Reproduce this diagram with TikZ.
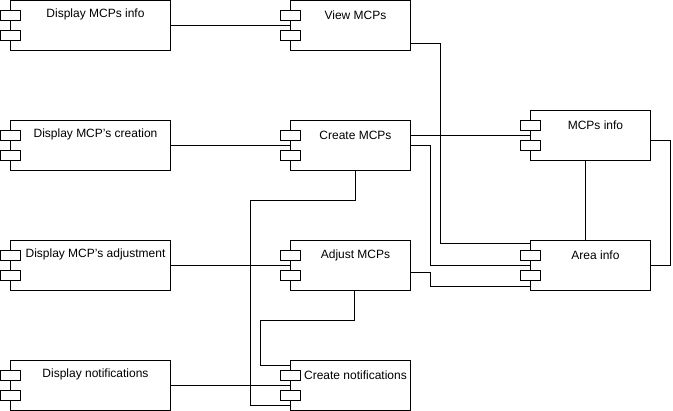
\documentclass[tikz,border=0pt]{standalone}
\usepackage{fontspec}
\setmainfont{Liberation Sans}
\usetikzlibrary{positioning, calc}
\tikzstyle{component} = [rectangle, draw=black, fill=white, line width=1pt, minimum width=160pt, minimum height=50pt, inner sep=0pt, outer sep=0pt]
\tikzstyle{port} = [draw=black, fill=white, line width=1pt]
\tikzstyle{wire} = [draw=black, line width=1pt]
\tikzset{complabel/.style={anchor=center, xshift=5pt, yshift=-15pt, font=\fontsize{12}{14}\selectfont, inner sep=0pt}}

\begin{document}
\begin{tikzpicture}[node distance=70pt]
  \useasboundingbox (0,0) rectangle (673pt,-411pt);

  % left column
  \node[component, anchor=north west] (dmi) at (10.5pt,-0.5pt) {};
  \node[component, below=of dmi] (dmc) {};
  \node[component, below=of dmc] (dma) {};
  \node[component, below=of dma] (dn) {};
  \node[inner sep=0pt, label={[complabel]north:Display MCPs info}] at (dmi.north) {};
  \node[inner sep=0pt, label={[complabel]north:Display MCP's creation}] at (dmc.north) {};
  \node[inner sep=0pt, label={[complabel]north:Display MCP's adjustment}] at (dma.north) {};
  \node[inner sep=0pt, label={[complabel]north:Display notifications}] at (dn.north) {};

  % middle column
  \node[component, minimum width=120pt, right=120pt of dmi, label={[complabel]north:View MCPs}] (vm) {};
  \node[component, minimum width=120pt, right=120pt of dmc, label={[complabel]north:Create MCPs}] (cm) {};
  \node[component, minimum width=120pt, right=120pt of dma, label={[complabel]north:Adjust MCPs}] (am) {};
  \node[component, minimum width=120pt, right=120pt of dn, label={[complabel]north:Create notifications}] (cn) {};

  % right column
  \node[component, minimum width=120pt, anchor=north west, label={[complabel]north:MCPs info}] (mi) at (530.5pt,-110.5pt) {};
  \node[component, minimum width=120pt, below=80pt of mi, label={[complabel]north:Area info}] (ai) {};

  % connectors
  \draw[wire] (dmi.east) -- (vm.west);
  \draw[wire] ([yshift=-18pt]vm.east) -- ++(30pt,0) |- ([yshift=22pt]ai.west);
  \draw[wire] (dmc.east) -- (cm.west);
  \draw[wire] ([yshift=10pt]cm.east) -- (mi.west);
  \draw[wire] (cm.east) -- ++(20pt,0) |- (ai.west);
  \draw[wire] ([xshift=5pt]cm.south) -- ++(0,-30pt) -| ([xshift=-40pt,yshift=-20pt]cn.west) -- ([yshift=-20pt]cn.west);
  \draw[wire] (dma.east) -- (am.west);
  \draw[wire] ([yshift=-7pt]am.east) -- ++(20pt,0) |- ([yshift=-21pt]ai.west);
  \draw[wire] ([xshift=4pt]am.south) -- ++(0,-30pt) -| ([xshift=-30pt,yshift=20pt]cn.west) -- ([yshift=20pt]cn.west);
  \draw[wire] (dn.east) -- (cn.west);
  \draw[wire] ([xshift=-5pt]mi.south) -- ([xshift=-5pt]ai.north);
  \draw[wire] ([yshift=-5pt]mi.east) -- ++(20pt,0) |- (ai.east);

  % ports
  \foreach \n in {dmi,dmc,dma,dn,vm,cm,am,cn,mi,ai} {
    \draw[port] ([xshift=-10pt,yshift=-10pt]\n.north west) rectangle ++(20pt,-10pt);
    \draw[port] ([xshift=-10pt,yshift=-30pt]\n.north west) rectangle ++(20pt,-10pt);
  }
\end{tikzpicture}
\end{document}
